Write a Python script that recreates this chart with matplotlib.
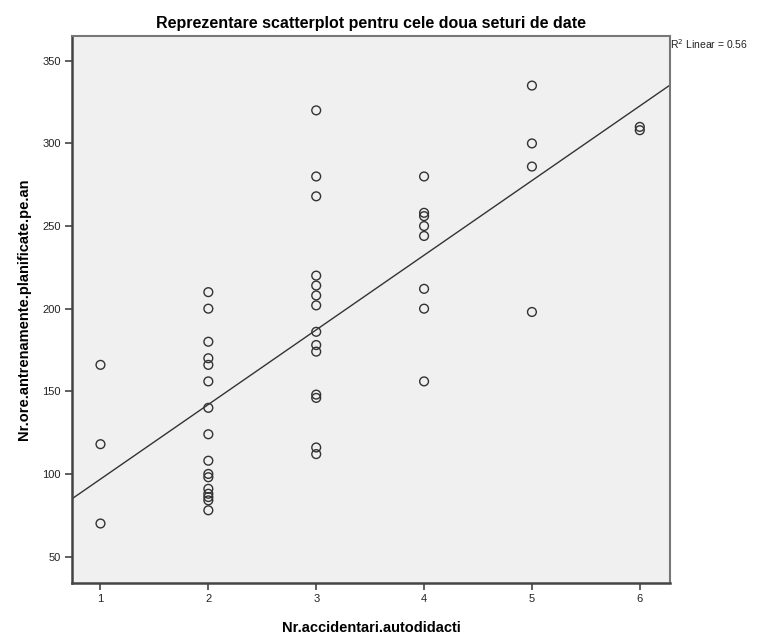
import numpy as np
import matplotlib
matplotlib.use("Agg")
import matplotlib.pyplot as plt

plt.rcParams['font.family'] = ['Liberation Sans', 'DejaVu Sans']

x1 = [1, 1, 1]
y1 = [166, 118, 70]
x2 = [2] * 16
y2 = [210, 200, 180, 170, 166, 156, 140, 124, 108, 100, 98, 91, 88, 86, 84, 78]
x3 = [3] * 14
y3 = [320, 280, 268, 220, 214, 208, 202, 186, 178, 174, 148, 146, 116, 112]
x4 = [4] * 8
y4 = [280, 258, 256, 250, 244, 212, 200, 156]
x5 = [5] * 4
y5 = [335, 300, 286, 198]
x6 = [6, 6]
y6 = [310, 308]

xs = np.array(x1 + x2 + x3 + x4 + x5 + x6, dtype=float)
ys = np.array(y1 + y2 + y3 + y4 + y5 + y6, dtype=float)

title = "Reprezentare scatterplot pentru cele doua seturi de date"
xlabel = "Nr.accidentari.autodidacti"
ylabel = "Nr.ore.antrenamente.planificate.pe.an"
r2_label = "R$^2$ Linear = 0.56"
xticks = [1, 2, 3, 4, 5, 6]
yticks = [50, 100, 150, 200, 250, 300, 350]

fig = plt.figure(figsize=(7.68, 6.41), dpi=100)
top_px, bot_px, left_px, right_px = 36, 583, 72, 670
ax = fig.add_axes([left_px/768, 1-bot_px/641, (right_px-left_px)/768, (bot_px-top_px)/641])
ax.set_facecolor('#F0F0F0')

xlim = (0.736, 6.28)
ylim = (34, 365)
ax.set_xlim(*xlim)
ax.set_ylim(*ylim)

slope, intercept = np.polyfit(xs, ys, 1)
lx = np.array(xlim)
ax.plot(lx, slope * lx + intercept, color='#333333', lw=1.0, zorder=2)

ax.scatter(xs, ys, s=40, facecolors='none', edgecolors='#333333', linewidths=1.0, zorder=3)

ax.set_xticks(xticks)
ax.set_yticks(yticks)
ax.tick_params(axis='both', direction='out', length=5, width=1.2, color='#444444',
               labelsize=8, labelcolor='#222222', pad=3)

for s in ['left', 'bottom']:
    ax.spines[s].set_linewidth(1.8)
    ax.spines[s].set_color('#444444')
for s in ['top', 'right']:
    ax.spines[s].set_linewidth(1.5)
    ax.spines[s].set_color('#777777')

ax.set_title(title, fontsize=11.5, fontweight='bold', pad=6)
ax.set_xlabel(xlabel, fontsize=10.5, fontweight='bold', labelpad=12)
ax.set_ylabel(ylabel, fontsize=10.5, fontweight='bold', labelpad=8)

fig.text(left_px/768 + (right_px-left_px)/768, 1-44/641, r2_label, fontsize=7.5,
         ha='left', va='center', color='#222222')

fig.savefig("out.png", dpi=100)
